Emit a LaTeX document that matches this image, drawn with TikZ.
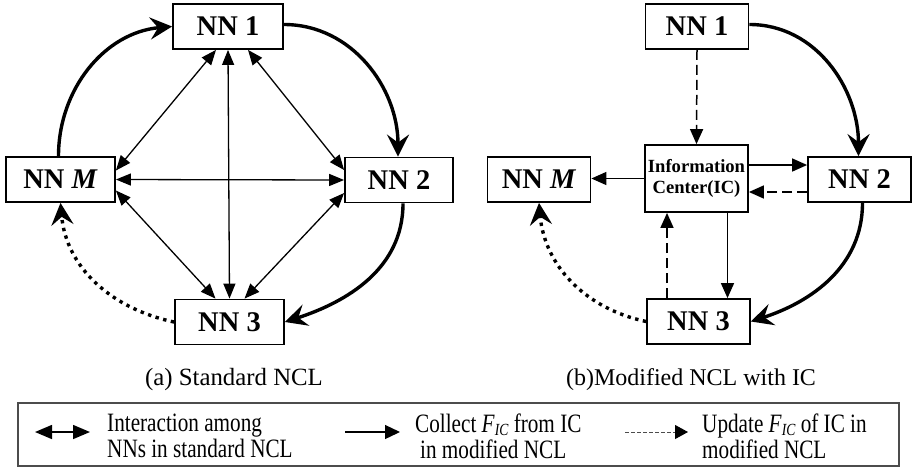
\documentclass[tikz,border=0pt]{standalone}
\usepackage{fontspec}
\setmainfont{Liberation Serif}
\newfontfamily\legfont[FakeStretch=0.8]{Liberation Serif}
\usetikzlibrary{arrows.meta}
\newcommand{\ficsub}{\textit{F}\raisebox{-0.3ex}{\fontsize{17}{17}\selectfont\itshape IC}}
\begin{document}
\begin{tikzpicture}[x=1pt,y=1pt,
  nnbox/.style={draw, line width=1.8pt, minimum height=45pt, inner sep=0pt,
    font=\fontsize{28.5}{30}\selectfont\bfseries},
  icbox/.style={draw, line width=1.8pt, minimum width=103pt, minimum height=67pt,
    inner sep=0pt, align=center, font=\fontsize{18.6}{21.7}\selectfont\bfseries},
  bigarc/.style={line width=3.4pt, -{Stealth[length=22pt,width=22pt,inset=8pt]}},
  bigdot/.style={line width=3.4pt, dash pattern=on 3.4pt off 4.5pt,
    -{Stealth[length=22pt,width=22pt,inset=8pt]}},
  dbl/.style={line width=1.3pt,
    {Triangle[length=15pt,width=12pt]}-{Triangle[length=15pt,width=12pt]}},
  solidarr/.style={line width=1.5pt, -{Triangle[length=15pt,width=13pt]}},
  dasharr/.style={line width=1.5pt, dash pattern=on 10pt off 5pt,
    -{Triangle[length=15pt,width=13pt]}},
  captext/.style={anchor=base, inner sep=0pt},
  legtext/.style={anchor=west, align=left, inner sep=0pt,
    font=\legfont\fontsize{26.5}{26.3}\selectfont}
]
\useasboundingbox (0,0) rectangle (915,-467);

% ---------- (a) ----------
\node[nnbox, minimum width=110pt] (a1) at (228,-26.5) {NN 1};
\node[nnbox, minimum width=109pt] (aM) at (60.5,-179.5) {NN \textit{M}};
\node[nnbox, minimum width=108pt] (a2) at (399,-180) {NN 2};
\node[nnbox, minimum width=109pt] (a3) at (229.5,-322) {NN 3};

\draw[bigarc] ([xshift=-2pt]aM.north) to[out=90,in=185] (a1.west);
\draw[bigarc] ([yshift=2pt]a1.east) to[out=0,in=90] ([xshift=-1pt]a2.north);
\draw[bigarc] ([xshift=4pt]a2.south) to[out=-90,in=18] (a3.east);
\draw[bigdot] (a3.west) to[out=168,in=-85] (aM.south);

\draw[dbl] (a1.south) -- (a3.north);
\draw[dbl] (aM.east) -- (a2.west);
\draw[dbl] ([xshift=-12pt]a1.south) -- ([yshift=9pt]aM.east);
\draw[dbl] ([xshift=20pt]a1.south) -- ([yshift=10pt]a2.west);
\draw[dbl] ([yshift=-11pt]aM.east) -- ([xshift=-14pt]a3.north);
\draw[dbl] ([yshift=-13pt]a2.west) -- ([xshift=15pt]a3.north);

\node[captext, font=\fontsize{24.8}{30}\selectfont] (capa) at (234,-385) {(a) Standard NCL};

% ---------- (b) ----------
\node[nnbox, minimum width=103pt] (b1) at (697,-26.5) {NN 1};
\node[icbox] (ic) at (696.5,-178.5) {Information\\Center(IC)};
\node[nnbox, minimum width=103pt] (bM) at (539,-179.5) {NN \textit{M}};
\node[nnbox, minimum width=103pt] (b2) at (859.5,-179.5) {NN 2};
\node[nnbox, minimum width=103pt] (b3) at (698.5,-321.5) {NN 3};

\draw[dasharr] (b1.south) -- (ic.north);
\draw[solidarr] ([yshift=13.5pt]ic.east) -- ([yshift=13.5pt]ic.east -| b2.west);
\draw[dasharr] ([yshift=-12.5pt]b2.west) -- ([yshift=-12.5pt]b2.west -| ic.east);
\draw[solidarr] (ic.west) -- (ic.west -| bM.east);
\draw[solidarr] ([xshift=31pt]ic.south) -- ([xshift=31pt]ic.south |- b3.north);
\draw[dasharr] ([xshift=-29.5pt]ic.south |- b3.north) -- ([xshift=-29.5pt]ic.south);

\draw[bigarc] ([yshift=2pt]b1.east) to[out=0,in=90] ([xshift=-1pt]b2.north);
\draw[bigarc] ([xshift=3pt]b2.south) to[out=-90,in=18] (b3.east);
\draw[bigdot] (b3.west) to[out=168,in=-85] (bM.south);

\node[captext, font=\fontsize{24}{30}\selectfont] (capb) at (691,-385) {(b)Modified NCL with IC};

% ---------- legend ----------
\node[draw=black!70, line width=1.5pt, minimum width=881pt, minimum height=63pt,
  inner sep=0pt] (legend) at (458.5,-434.5) {};

\coordinate (l1a) at (35,-432);
\coordinate (l1b) at (90,-432);
\draw[line width=1.5pt, {Triangle[length=17pt,width=14pt]}-{Triangle[length=17pt,width=14pt]}] (l1a) -- (l1b);
\coordinate (l2a) at (345,-432);
\coordinate (l2b) at (400,-432);
\draw[line width=1.3pt, -{Triangle[length=15pt,width=14pt]}] (l2a) -- (l2b);
\coordinate (l3a) at (625,-432);
\coordinate (l3b) at (688,-432);
\draw[line width=1pt, draw=black!70, dash pattern=on 4pt off 2pt, -{Triangle[length=13pt,width=14pt,color=black]}] (l3a) -- (l3b);

\node[legtext] (t1) at (107,-436) {Interaction among\\NNs in standard NCL};
\node[legtext] (t2) at (415,-436) {Collect \ficsub{} from IC\\\hspace*{5pt}in modified NCL};
\node[legtext] (t3) at (702,-436) {Update \ficsub{} of IC in\\modified NCL};
\end{tikzpicture}
\end{document}
